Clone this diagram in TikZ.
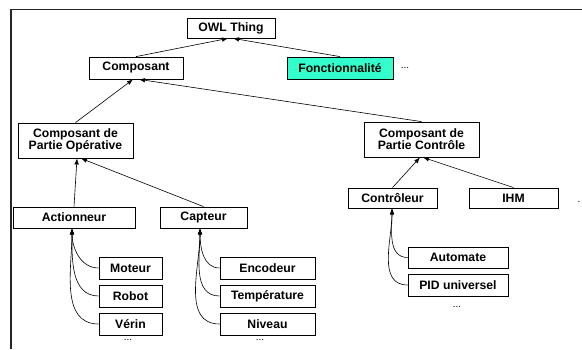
\documentclass[tikz,border=0pt]{standalone}
\usepackage{fontspec}
\setmainfont{Liberation Sans}
\usetikzlibrary{arrows.meta}
\definecolor{fonct}{RGB}{51,255,204}
\tikzset{
  box/.style={draw=black, line width=0.8pt, fill=white, inner sep=0pt, align=center,
    font=\fontsize{12.2}{12.2}\selectfont\bfseries},
  conn/.style={line width=0.6pt, -{Latex[length=6pt,width=4.5pt]}},
  more/.style={inner sep=0pt, anchor=base, font=\fontsize{10}{10}\selectfont},
  frame/.style={line width=1.2pt, draw=black!85}
}
\begin{document}
\begin{tikzpicture}[x=1pt,y=1pt]
\useasboundingbox (0,0) rectangle (582,349);
% frame
\draw[frame] (11,0) -- (11,339.5) -- (582,339.5);
% nodes
\node[box, minimum width=88pt, minimum height=20pt] (owl) at (231,321) {OWL Thing};
\node[box, minimum width=94pt, minimum height=22pt] (comp) at (136,281) {Composant};
\node[box, fill=fonct, minimum width=106pt, minimum height=22pt] (fonct) at (340,281) {Fonctionnalité};
\node[more] (fdots) at (405,280) {...};
\node[box, minimum width=115pt, minimum height=35pt] (cpo) at (75.5,208.5) {Composant de\\Partie Opérative};
\node[box, minimum width=115pt, minimum height=35pt] (cpc) at (421.5,209.5) {Composant de\\Partie Contrôle};
\node[box, minimum width=122pt, minimum height=21pt] (act) at (74,131.5) {Actionneur};
\node[box, minimum width=87pt, minimum height=21pt] (capt) at (203.5,131.5) {Capteur};
\node[box, minimum width=89pt, minimum height=20pt] (ctrl) at (392.5,151) {Contrôleur};
\node[box, minimum width=89pt, minimum height=20pt] (ihm) at (513.5,151) {IHM};
\node[more, anchor=base west] (idots) at (577.5,147) {.};
\node[box, minimum width=63pt, minimum height=22pt] (mot) at (130.5,81) {Moteur};
\node[box, minimum width=63pt, minimum height=22pt] (rob) at (130.5,53) {Robot};
\node[box, minimum width=63pt, minimum height=22pt] (ver) at (130.5,25) {Vérin};
\node[more] (adots) at (128,8.5) {...};
\node[box, minimum width=95pt, minimum height=22pt] (enc) at (267.5,81) {Encodeur};
\node[box, minimum width=95pt, minimum height=22pt] (temp) at (267.5,53) {Température};
\node[box, minimum width=95pt, minimum height=22pt] (niv) at (267.5,25) {Niveau};
\node[more] (cdots) at (260,8.5) {...};
\node[box, minimum width=100pt, minimum height=21pt] (auto) at (458,91.5) {Automate};
\node[box, minimum width=100pt, minimum height=22pt] (pid) at (458,64) {PID universel};
\node[more] (pdots) at (457,42) {...};
% straight connectors
\draw[conn] (comp.north) -- ([xshift=-3pt]owl.south);
\draw[conn] (fonct.north) -- ([xshift=2pt]owl.south);
\draw[conn] (cpo.north) -- ([xshift=-3pt]comp.south);
\draw[conn] (cpc.north) -- ([xshift=3pt]comp.south);
\draw[conn] (act.north) -- ([xshift=1.5pt]cpo.south);
\draw[conn] (capt.north) -- ([xshift=5.5pt]cpo.south);
\draw[conn] (ctrl.north) -- ([xshift=-1.5pt]cpc.south);
\draw[conn] (ihm.north) -- ([xshift=1.5pt]cpc.south);
% curved connectors
\foreach \c in {mot,rob,ver}
  \draw[conn] (\c.west) to[out=180,in=-90] ([xshift=-2pt]act.south);
\foreach \c in {enc,temp,niv}
  \draw[conn] (\c.west) to[out=180,in=-90] ([xshift=-3.5pt]capt.south);
\foreach \c in {auto,pid}
  \draw[conn] (\c.west) to[out=180,in=-90] ([xshift=-0.5pt]ctrl.south);
\end{tikzpicture}
\end{document}
